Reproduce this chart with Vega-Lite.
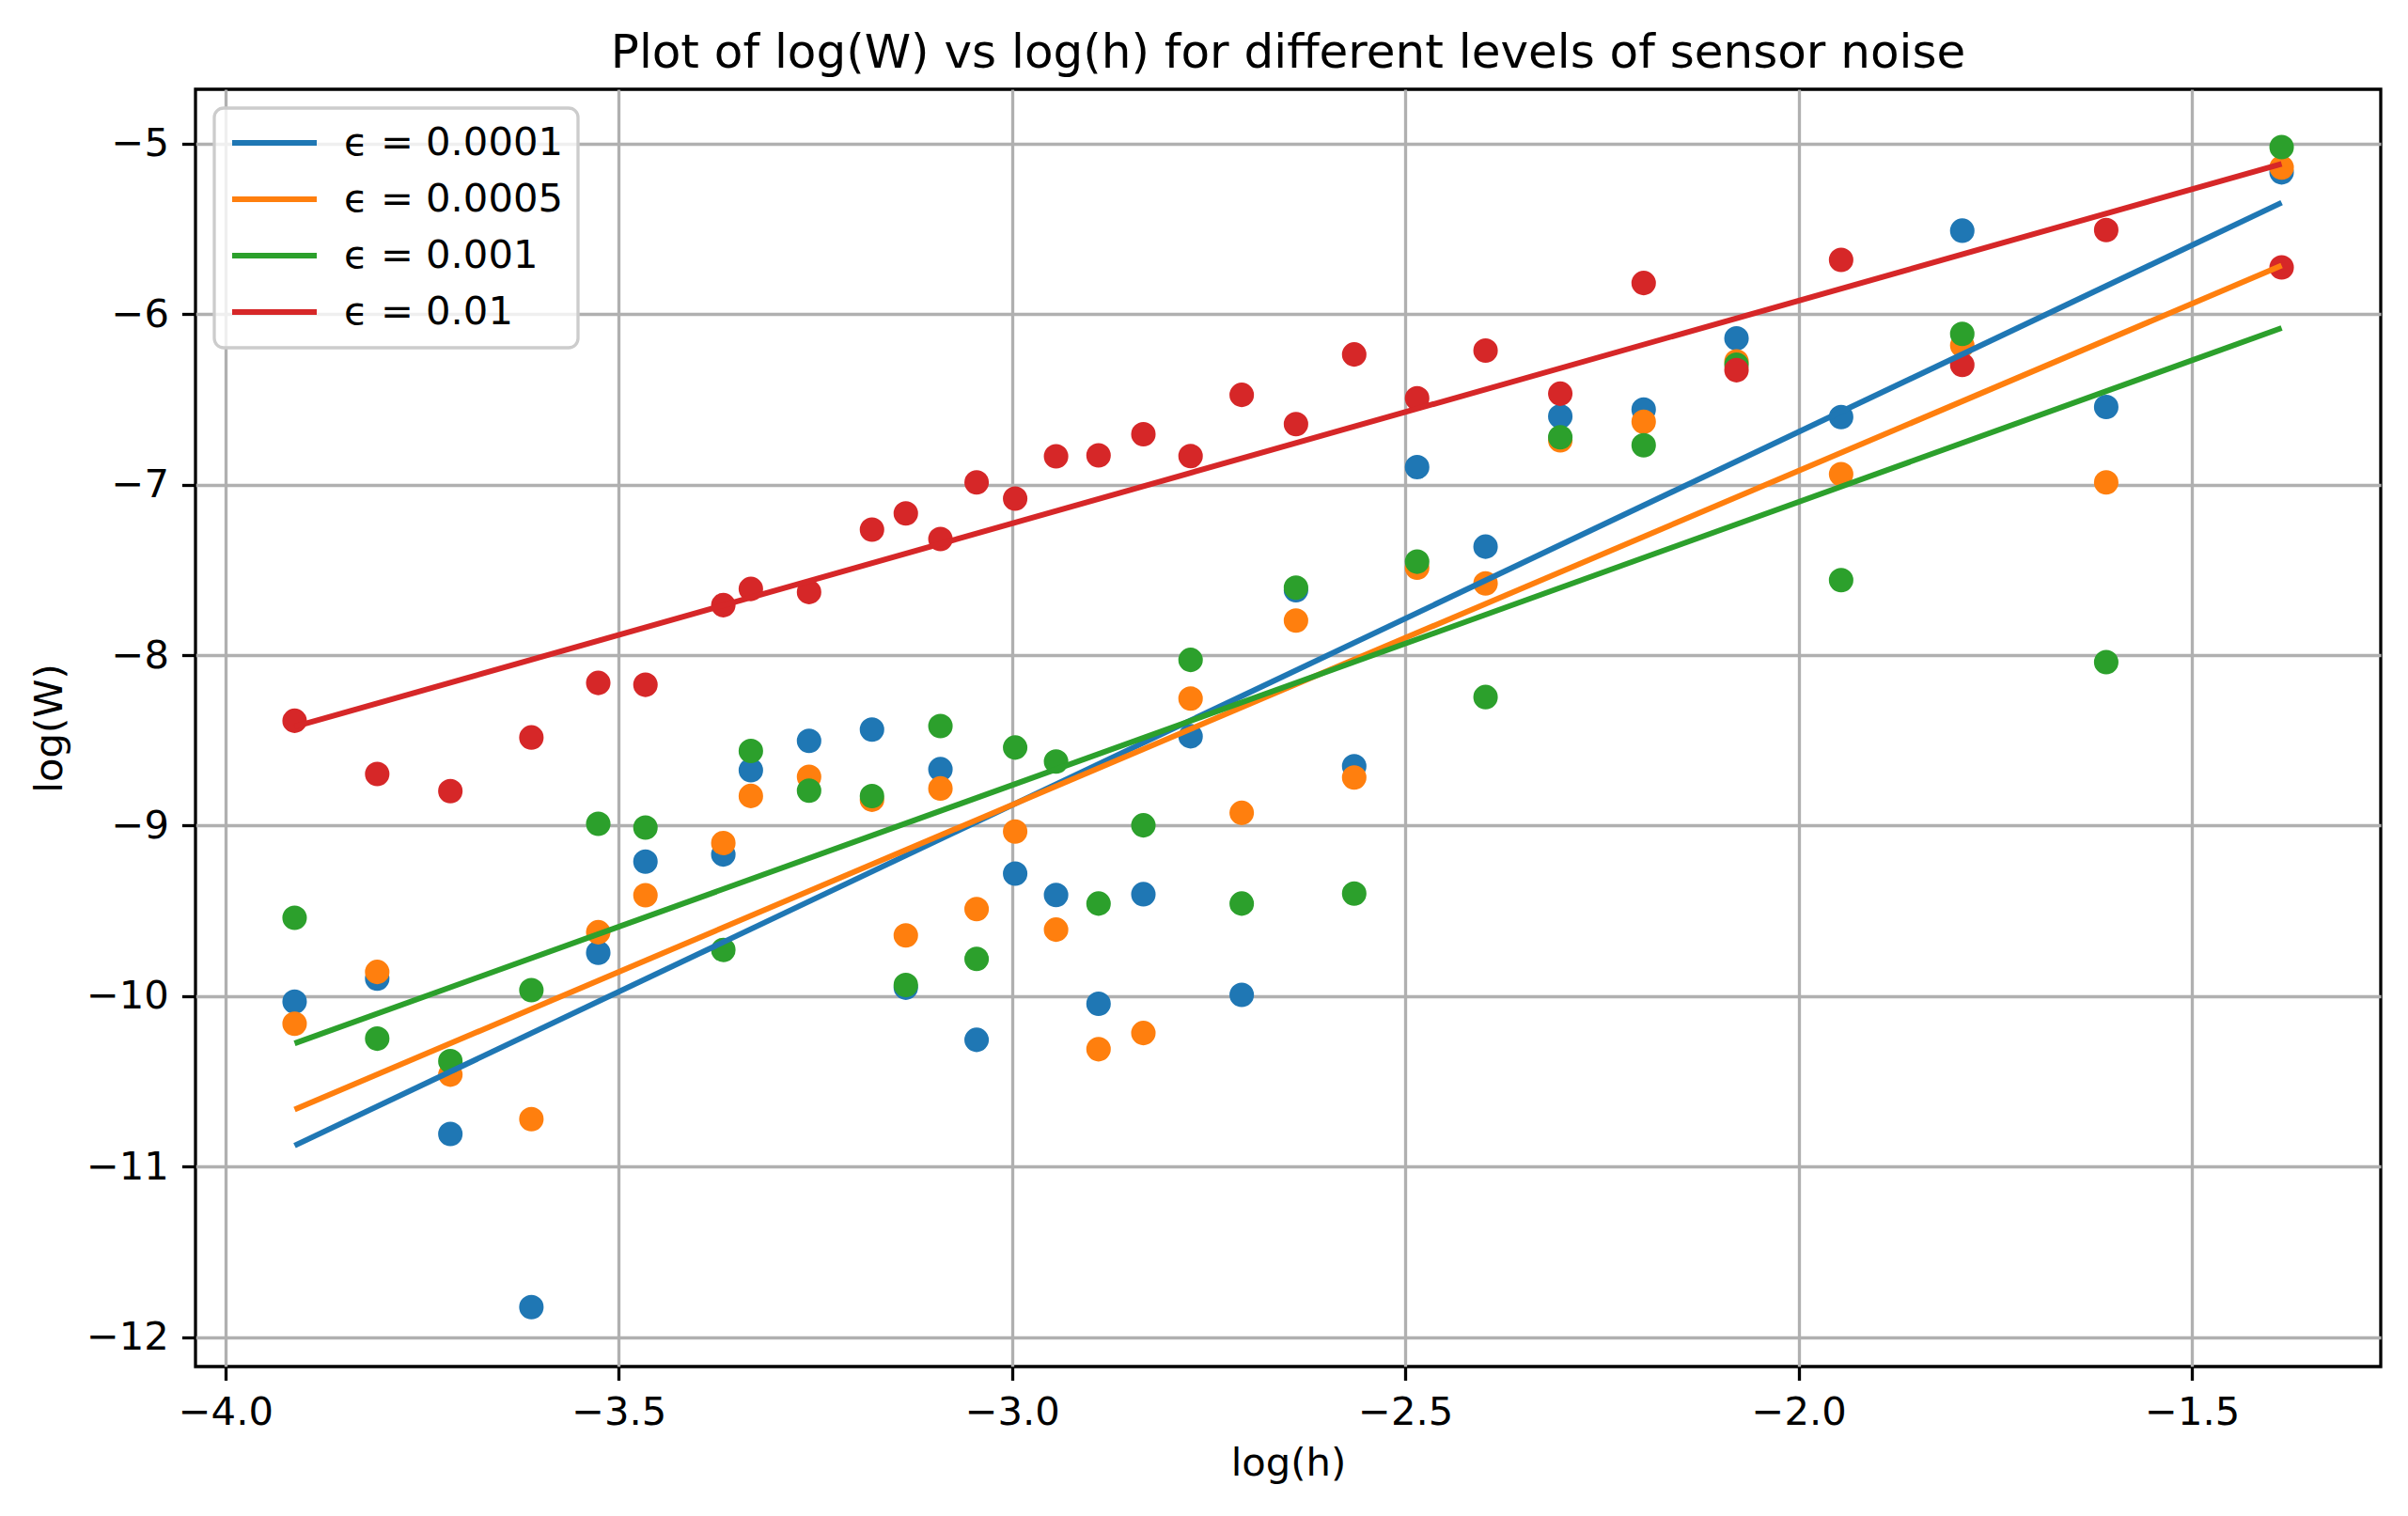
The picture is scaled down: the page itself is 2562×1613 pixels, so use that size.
{
  "$schema": "https://vega.github.io/schema/vega-lite/v6.json",
  "autosize": {"type": "none"},
  "padding": {"left": 208, "top": 95, "right": 29, "bottom": 159},
  "width": 2325,
  "height": 1359,
  "background": "white",
  "title": {
    "text": "Plot of log(W) vs log(h) for different levels of sensor noise",
    "font": "DejaVu Sans",
    "fontSize": 50,
    "fontWeight": "normal",
    "color": "black",
    "anchor": "middle",
    "frame": "group",
    "baseline": "alphabetic",
    "offset": 25,
    "dy": 52
  },
  "datasets": {
    "points": [
      {"logh": -3.912, "logw": -10.032, "noise": "ϵ = 0.0001"},
      {"logh": -3.807, "logw": -9.897, "noise": "ϵ = 0.0001"},
      {"logh": -3.714, "logw": -10.808, "noise": "ϵ = 0.0001"},
      {"logh": -3.611, "logw": -11.823, "noise": "ϵ = 0.0001"},
      {"logh": -3.526, "logw": -9.746, "noise": "ϵ = 0.0001"},
      {"logh": -3.466, "logw": -9.211, "noise": "ϵ = 0.0001"},
      {"logh": -3.367, "logw": -9.169, "noise": "ϵ = 0.0001"},
      {"logh": -3.332, "logw": -8.675, "noise": "ϵ = 0.0001"},
      {"logh": -3.258, "logw": -8.503, "noise": "ϵ = 0.0001"},
      {"logh": -3.178, "logw": -8.437, "noise": "ϵ = 0.0001"},
      {"logh": -3.135, "logw": -9.95, "noise": "ϵ = 0.0001"},
      {"logh": -3.091, "logw": -8.669, "noise": "ϵ = 0.0001"},
      {"logh": -3.045, "logw": -10.256, "noise": "ϵ = 0.0001"},
      {"logh": -2.996, "logw": -9.281, "noise": "ϵ = 0.0001"},
      {"logh": -2.944, "logw": -9.407, "noise": "ϵ = 0.0001"},
      {"logh": -2.890, "logw": -10.045, "noise": "ϵ = 0.0001"},
      {"logh": -2.833, "logw": -9.402, "noise": "ϵ = 0.0001"},
      {"logh": -2.773, "logw": -8.476, "noise": "ϵ = 0.0001"},
      {"logh": -2.708, "logw": -9.992, "noise": "ϵ = 0.0001"},
      {"logh": -2.639, "logw": -7.62, "noise": "ϵ = 0.0001"},
      {"logh": -2.565, "logw": -8.652, "noise": "ϵ = 0.0001"},
      {"logh": -2.485, "logw": -6.898, "noise": "ϵ = 0.0001"},
      {"logh": -2.398, "logw": -7.364, "noise": "ϵ = 0.0001"},
      {"logh": -2.303, "logw": -6.600, "noise": "ϵ = 0.0001"},
      {"logh": -2.197, "logw": -6.560, "noise": "ϵ = 0.0001"},
      {"logh": -2.079, "logw": -6.143, "noise": "ϵ = 0.0001"},
      {"logh": -1.946, "logw": -6.604, "noise": "ϵ = 0.0001"},
      {"logh": -1.792, "logw": -5.511, "noise": "ϵ = 0.0001"},
      {"logh": -1.609, "logw": -6.545, "noise": "ϵ = 0.0001"},
      {"logh": -1.386, "logw": -5.169, "noise": "ϵ = 0.0001"},

      {"logh": -3.912, "logw": -10.162, "noise": "ϵ = 0.0005"},
      {"logh": -3.807, "logw": -9.858, "noise": "ϵ = 0.0005"},
      {"logh": -3.714, "logw": -10.460, "noise": "ϵ = 0.0005"},
      {"logh": -3.611, "logw": -10.721, "noise": "ϵ = 0.0005"},
      {"logh": -3.526, "logw": -9.625, "noise": "ϵ = 0.0005"},
      {"logh": -3.466, "logw": -9.408, "noise": "ϵ = 0.0005"},
      {"logh": -3.367, "logw": -9.102, "noise": "ϵ = 0.0005"},
      {"logh": -3.332, "logw": -8.826, "noise": "ϵ = 0.0005"},
      {"logh": -3.258, "logw": -8.714, "noise": "ϵ = 0.0005"},
      {"logh": -3.178, "logw": -8.848, "noise": "ϵ = 0.0005"},
      {"logh": -3.135, "logw": -9.644, "noise": "ϵ = 0.0005"},
      {"logh": -3.091, "logw": -8.782, "noise": "ϵ = 0.0005"},
      {"logh": -3.045, "logw": -9.489, "noise": "ϵ = 0.0005"},
      {"logh": -2.996, "logw": -9.035, "noise": "ϵ = 0.0005"},
      {"logh": -2.944, "logw": -9.610, "noise": "ϵ = 0.0005"},
      {"logh": -2.890, "logw": -10.311, "noise": "ϵ = 0.0005"},
      {"logh": -2.833, "logw": -10.216, "noise": "ϵ = 0.0005"},
      {"logh": -2.773, "logw": -8.255, "noise": "ϵ = 0.0005"},
      {"logh": -2.708, "logw": -8.925, "noise": "ϵ = 0.0005"},
      {"logh": -2.639, "logw": -7.797, "noise": "ϵ = 0.0005"},
      {"logh": -2.565, "logw": -8.718, "noise": "ϵ = 0.0005"},
      {"logh": -2.485, "logw": -7.487, "noise": "ϵ = 0.0005"},
      {"logh": -2.398, "logw": -7.580, "noise": "ϵ = 0.0005"},
      {"logh": -2.303, "logw": -6.740, "noise": "ϵ = 0.0005"},
      {"logh": -2.197, "logw": -6.632, "noise": "ϵ = 0.0005"},
      {"logh": -2.079, "logw": -6.278, "noise": "ϵ = 0.0005"},
      {"logh": -1.946, "logw": -6.939, "noise": "ϵ = 0.0005"},
      {"logh": -1.792, "logw": -6.184, "noise": "ϵ = 0.0005"},
      {"logh": -1.609, "logw": -6.987, "noise": "ϵ = 0.0005"},
      {"logh": -1.386, "logw": -5.141, "noise": "ϵ = 0.0005"},

      {"logh": -3.912, "logw": -9.540, "noise": "ϵ = 0.001"},
      {"logh": -3.807, "logw": -10.249, "noise": "ϵ = 0.001"},
      {"logh": -3.714, "logw": -10.381, "noise": "ϵ = 0.001"},
      {"logh": -3.611, "logw": -9.965, "noise": "ϵ = 0.001"},
      {"logh": -3.526, "logw": -8.989, "noise": "ϵ = 0.001"},
      {"logh": -3.466, "logw": -9.011, "noise": "ϵ = 0.001"},
      {"logh": -3.367, "logw": -9.729, "noise": "ϵ = 0.001"},
      {"logh": -3.332, "logw": -8.562, "noise": "ϵ = 0.001"},
      {"logh": -3.258, "logw": -8.795, "noise": "ϵ = 0.001"},
      {"logh": -3.178, "logw": -8.827, "noise": "ϵ = 0.001"},
      {"logh": -3.135, "logw": -9.934, "noise": "ϵ = 0.001"},
      {"logh": -3.091, "logw": -8.416, "noise": "ϵ = 0.001"},
      {"logh": -3.045, "logw": -9.781, "noise": "ϵ = 0.001"},
      {"logh": -2.996, "logw": -8.542, "noise": "ϵ = 0.001"},
      {"logh": -2.944, "logw": -8.624, "noise": "ϵ = 0.001"},
      {"logh": -2.890, "logw": -9.457, "noise": "ϵ = 0.001"},
      {"logh": -2.833, "logw": -8.998, "noise": "ϵ = 0.001"},
      {"logh": -2.773, "logw": -8.028, "noise": "ϵ = 0.001"},
      {"logh": -2.708, "logw": -9.457, "noise": "ϵ = 0.001"},
      {"logh": -2.639, "logw": -7.604, "noise": "ϵ = 0.001"},
      {"logh": -2.565, "logw": -9.398, "noise": "ϵ = 0.001"},
      {"logh": -2.485, "logw": -7.452, "noise": "ϵ = 0.001"},
      {"logh": -2.398, "logw": -8.246, "noise": "ϵ = 0.001"},
      {"logh": -2.303, "logw": -6.723, "noise": "ϵ = 0.001"},
      {"logh": -2.197, "logw": -6.769, "noise": "ϵ = 0.001"},
      {"logh": -2.079, "logw": -6.297, "noise": "ϵ = 0.001"},
      {"logh": -1.946, "logw": -7.560, "noise": "ϵ = 0.001"},
      {"logh": -1.792, "logw": -6.116, "noise": "ϵ = 0.001"},
      {"logh": -1.609, "logw": -8.041, "noise": "ϵ = 0.001"},
      {"logh": -1.386, "logw": -5.021, "noise": "ϵ = 0.001"},

      {"logh": -3.912, "logw": -8.385, "noise": "ϵ = 0.01"},
      {"logh": -3.807, "logw": -8.697, "noise": "ϵ = 0.01"},
      {"logh": -3.714, "logw": -8.798, "noise": "ϵ = 0.01"},
      {"logh": -3.611, "logw": -8.483, "noise": "ϵ = 0.01"},
      {"logh": -3.526, "logw": -8.163, "noise": "ϵ = 0.01"},
      {"logh": -3.466, "logw": -8.174, "noise": "ϵ = 0.01"},
      {"logh": -3.367, "logw": -7.707, "noise": "ϵ = 0.01"},
      {"logh": -3.332, "logw": -7.612, "noise": "ϵ = 0.01"},
      {"logh": -3.258, "logw": -7.630, "noise": "ϵ = 0.01"},
      {"logh": -3.178, "logw": -7.264, "noise": "ϵ = 0.01"},
      {"logh": -3.135, "logw": -7.169, "noise": "ϵ = 0.01"},
      {"logh": -3.091, "logw": -7.319, "noise": "ϵ = 0.01"},
      {"logh": -3.045, "logw": -6.987, "noise": "ϵ = 0.01"},
      {"logh": -2.996, "logw": -7.082, "noise": "ϵ = 0.01"},
      {"logh": -2.944, "logw": -6.834, "noise": "ϵ = 0.01"},
      {"logh": -2.890, "logw": -6.829, "noise": "ϵ = 0.01"},
      {"logh": -2.833, "logw": -6.705, "noise": "ϵ = 0.01"},
      {"logh": -2.773, "logw": -6.833, "noise": "ϵ = 0.01"},
      {"logh": -2.708, "logw": -6.474, "noise": "ϵ = 0.01"},
      {"logh": -2.639, "logw": -6.645, "noise": "ϵ = 0.01"},
      {"logh": -2.565, "logw": -6.237, "noise": "ϵ = 0.01"},
      {"logh": -2.485, "logw": -6.494, "noise": "ϵ = 0.01"},
      {"logh": -2.398, "logw": -6.214, "noise": "ϵ = 0.01"},
      {"logh": -2.303, "logw": -6.467, "noise": "ϵ = 0.01"},
      {"logh": -2.197, "logw": -5.818, "noise": "ϵ = 0.01"},
      {"logh": -2.079, "logw": -6.329, "noise": "ϵ = 0.01"},
      {"logh": -1.946, "logw": -5.682, "noise": "ϵ = 0.01"},
      {"logh": -1.792, "logw": -6.298, "noise": "ϵ = 0.01"},
      {"logh": -1.609, "logw": -5.507, "noise": "ϵ = 0.01"},
      {"logh": -1.386, "logw": -5.726, "noise": "ϵ = 0.01"}
    ],
    "fits": [
      {"logh": -3.912, "logw": -10.876, "eps": "ϵ = 0.0001"},
      {"logh": -1.386, "logw": -5.347, "eps": "ϵ = 0.0001"},
      {"logh": -3.912, "logw": -10.665, "eps": "ϵ = 0.0005"},
      {"logh": -1.386, "logw": -5.716, "eps": "ϵ = 0.0005"},
      {"logh": -3.912, "logw": -10.277, "eps": "ϵ = 0.001"},
      {"logh": -1.386, "logw": -6.082, "eps": "ϵ = 0.001"},
      {"logh": -3.912, "logw": -8.420, "eps": "ϵ = 0.01"},
      {"logh": -1.386, "logw": -5.119, "eps": "ϵ = 0.01"}
    ]
  },
  "encoding": {
    "x": {
      "field": "logh",
      "type": "quantitative",
      "title": "log(h)",
      "scale": {"domain": [-4.038, -1.260], "nice": false, "zero": false},
      "axis": {"values": [-4, -3.5, -3, -2.5, -2, -1.5], "format": ".1f", "titlePadding": 12}
    },
    "y": {
      "field": "logw",
      "type": "quantitative",
      "title": "log(W)",
      "scale": {"domain": [-12.172, -4.682], "nice": false, "zero": false},
      "axis": {"values": [-12, -11, -10, -9, -8, -7, -6, -5], "format": "d", "titlePadding": 17}
    }
  },
  "layer": [
    {
      "data": {"name": "points"},
      "mark": {"type": "circle", "size": 680, "opacity": 1},
      "encoding": {
        "fill": {
          "field": "noise",
          "type": "nominal",
          "scale": {
            "domain": ["ϵ = 0.0001", "ϵ = 0.0005", "ϵ = 0.001", "ϵ = 0.01"],
            "range": ["#1f77b4", "#ff7f0e", "#2ca02c", "#d62728"]
          },
          "legend": null
        }
      }
    },
    {
      "data": {"name": "fits"},
      "mark": {"type": "line", "strokeWidth": 6},
      "encoding": {
        "color": {
          "field": "eps",
          "type": "nominal",
          "scale": {
            "domain": ["ϵ = 0.0001", "ϵ = 0.0005", "ϵ = 0.001", "ϵ = 0.01"],
            "range": ["#1f77b4", "#ff7f0e", "#2ca02c", "#d62728"]
          },
          "legend": {
            "title": null,
            "orient": "top-left",
            "offset": 20,
            "padding": 16,
            "symbolType": "M-1,0H4",
            "symbolSize": 1296,
            "symbolStrokeWidth": 6,
            "labelOffset": 80,
            "labelLimit": 600,
            "rowPadding": 17,
            "labelFontSize": 41.7,
            "labelFont": "DejaVu Sans",
            "labelColor": "black",
            "fillColor": "rgba(255,255,255,0.8)",
            "strokeColor": "#cccccc",
            "cornerRadius": 10
          }
        }
      }
    }
  ],
  "resolve": {"scale": {"color": "independent", "fill": "independent"}},
  "config": {
    "view": {"stroke": "black", "strokeWidth": 3.3},
    "legend": {"strokeWidth": 3.3},
    "axis": {
      "domain": false,
      "grid": true,
      "gridColor": "#b0b0b0",
      "gridWidth": 3.3,
      "gridOpacity": 1,
      "ticks": true,
      "tickColor": "black",
      "tickWidth": 3.3,
      "tickSize": 14.6,
      "labelPadding": 14,
      "labelFont": "DejaVu Sans",
      "labelFontSize": 41.7,
      "labelColor": "black",
      "labelFlush": false,
      "labelOverlap": false,
      "titleFont": "DejaVu Sans",
      "titleFontSize": 41.7,
      "titleFontWeight": "normal",
      "titleColor": "black"
    }
  }
}
